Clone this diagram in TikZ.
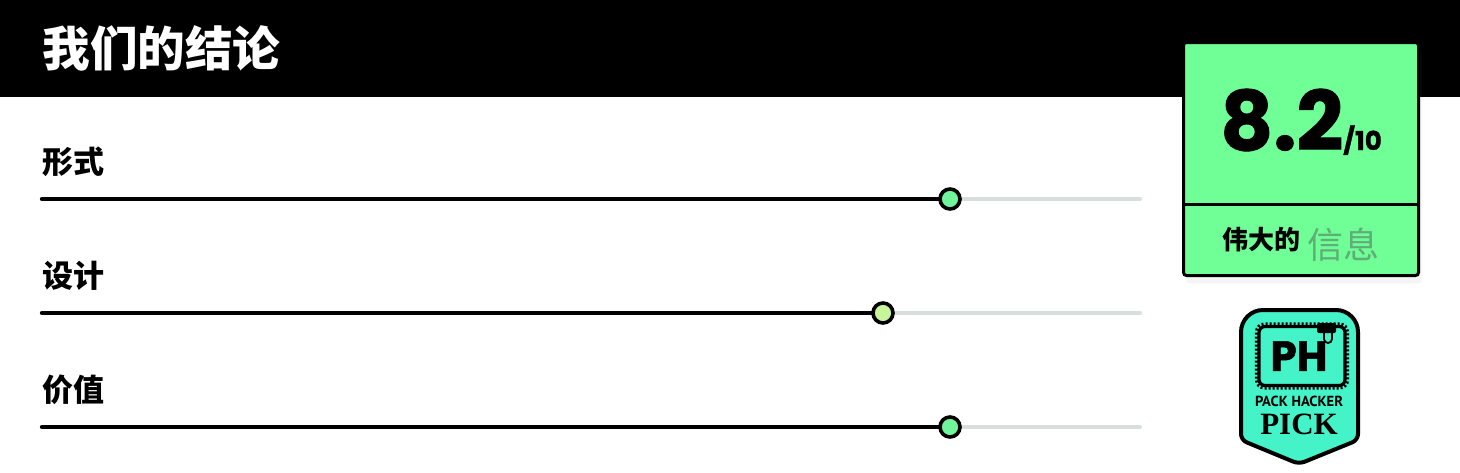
\documentclass[tikz,border=0pt]{standalone}
\usepackage{fontspec}
\setmainfont{Poppins}
\newfontfamily\heavy{Poppins}[BoldFeatures={FakeBold=1.2}]
\newfontfamily\cjk{Noto Sans CJK SC}
\newfontfamily\narrow{PT Sans}
\newfontfamily\serifpick{Liberation Serif}
\usetikzlibrary{positioning,shadows}

\definecolor{scoregreen}{HTML}{70FF96}
\definecolor{knobgreen}{HTML}{70F59C}
\definecolor{knoblime}{HTML}{C8F59A}
\definecolor{trackgray}{HTML}{D8DEDB}
\definecolor{badgeteal}{HTML}{44F3C8}
\definecolor{infogreen}{HTML}{5FAE78}

\begin{document}
\begin{tikzpicture}[x=0.5pt,y=-0.5pt,node distance=3.5pt,
  headtext/.style={anchor=west,inner sep=0pt,white,font=\cjk\bfseries\fontsize{23.8}{24}\selectfont},
  rowname/.style={anchor=west,inner sep=0pt,font=\cjk\bfseries\fontsize{15.5}{16}\selectfont},
  knob/.style={circle,draw=black,line width=1.8pt,minimum size=10pt,inner sep=0pt}]
  \useasboundingbox (0,0) rectangle (1460,472);
\tikzset{track/.style={line width=2pt,line cap=round,trackgray}}
\tikzset{bar/.style={line width=2.2pt,line cap=round,black}}
  % header
  \fill[black] (0,0) rectangle (1460,97);
  \node[headtext]       (title)   at (42,48)      {我们的结论};
  % rows
  \node[rowname]        (form)    at (42,162)     {形式};
  \node[rowname]        (design)  at (42,276)     {设计};
  \node[rowname]        (value)   at (42,390)     {价值};
  \coordinate (s1) at (42,199);  \coordinate (k1) at (950,199); \coordinate (e1) at (1140,199);
  \coordinate (s2) at (42,313);  \coordinate (k2) at (883,313); \coordinate (e2) at (1140,313);
  \coordinate (s3) at (42,427);  \coordinate (k3) at (950,427); \coordinate (e3) at (1140,427);
  \draw[track] (k1) -- (e1);
  \draw[bar]   (s1) -- (k1);
  \node[knob,fill=knobgreen] (knob1) at (k1) {};
  \draw[track] (k2) -- (e2);
  \draw[bar]   (s2) -- (k2);
  \node[knob,fill=knoblime]  (knob2) at (k2) {};
  \draw[track] (k3) -- (e3);
  \draw[bar]   (s3) -- (k3);
  \node[knob,fill=knobgreen] (knob3) at (k3) {};
  % score box
\tikzset{scorebox/.style={rectangle,rounded corners=1.5pt,fill=scoregreen,draw=black,line width=1.5pt,
  minimum width=117.5pt,minimum height=116.5pt,inner sep=0pt,
  drop shadow={opacity=0.08,shadow xshift=1.5pt,shadow yshift=-4pt}}}
  \node[scorebox]       (score)   at (1301,159)   {};
  \coordinate (cut) at (1301,204);
  \draw[line width=1.5pt] (score.west |- cut) -- (score.east |- cut);
  \node[anchor=base,inner sep=0pt] (mark) at (1301,150)
       {\heavy\bfseries\fontsize{41}{41}\selectfont 8.2\fontsize{13}{13}\selectfont/10};
  \node[inner sep=0pt,font=\cjk\bfseries\fontsize{13}{14}\selectfont] (great) at (1261,240) {伟大的};
  \node[inner sep=0pt,infogreen,font=\cjk\fontsize{18}{18}\selectfont,right=of great,yshift=-2.5pt] (info) {信息};
  % badge
\tikzset{badge/.style={draw=black,line width=2pt,fill=badgeteal}}
\tikzset{stampedge/.style={rectangle,rounded corners=4pt,draw=black,line width=1.6pt,
  dash pattern=on 1pt off 1pt,minimum width=45.5pt,minimum height=32pt,inner sep=0pt}}
\tikzset{stampline/.style={rectangle,rounded corners=3pt,draw=black,line width=1.6pt,
  minimum width=43pt,minimum height=29.5pt,inner sep=0pt}}
  \draw[badge,rounded corners=3pt] (1299,464) -- (1241,440) [rounded corners=11pt]
       -- (1241,310) -- (1358,310) [rounded corners=3pt] -- (1358,440) -- cycle;
  \node[stampedge]      (stamp)   at (1302,356)   {};
  \node[stampline]      (stampin) at (stamp)      {};
  \node[inner sep=0pt,font=\heavy\bfseries\fontsize{21}{21}\selectfont] (ph) at (1299,356) {PH};
  \fill[black,rounded corners=1pt] (1317,323) rectangle (1336,333);
  \draw[line width=0.9pt] (1324,333) -- (1324,339) arc[start angle=180,end angle=0,radius=4] -- (1332,333);
  \node[inner sep=0pt,font=\narrow\bfseries\fontsize{7.3}{8}\selectfont] (pack) at (1299,401) {PACK HACKER};
  \node[inner sep=0pt,font=\serifpick\bfseries\fontsize{15.5}{16}\selectfont] (pick) at (1299,424) {PICK};
\end{tikzpicture}
\end{document}
